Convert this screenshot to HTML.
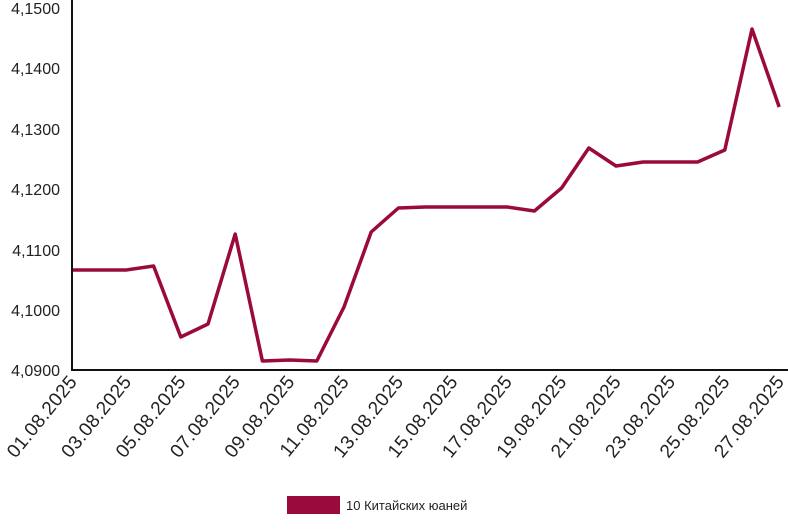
<!DOCTYPE html>
<html><head><meta charset="utf-8"><style>
body{margin:0;background:#fff;width:788px;height:525px;overflow:hidden}
text{font-family:"Liberation Sans",sans-serif;fill:#222}
</style></head><body>
<svg width="788" height="525" xmlns="http://www.w3.org/2000/svg">
<g font-size="16" text-anchor="end">
<text x="60" y="14">4,1500</text>
<text x="60" y="74">4,1400</text>
<text x="60" y="135">4,1300</text>
<text x="60" y="195">4,1200</text>
<text x="60" y="256">4,1100</text>
<text x="60" y="316">4,1000</text>
<text x="60" y="376">4,0900</text>
</g>
<polyline fill="none" stroke="#9b0a3c" stroke-width="3.5" stroke-linejoin="round" points="72,270 99.2,270 126.4,270 153.6,266 180.8,337 208,324 235.2,234 262.4,361 289.6,360 316.8,361 344,307 371.2,232 398.4,208 425.6,207 452.8,207 480,207 507.2,207 534.4,211 561.6,188 588.8,148 616,166 643.2,162 670.4,162 697.6,162 724.8,150 752,29 779.2,107"/>
<path d="M72,0 V370 H788" fill="none" stroke="#111" stroke-width="2"/>
<g font-size="19" text-anchor="end" letter-spacing="0.4">
<text transform="translate(78,382) rotate(-51)">01.08.2025</text>
<text transform="translate(132.4,382) rotate(-51)">03.08.2025</text>
<text transform="translate(186.8,382) rotate(-51)">05.08.2025</text>
<text transform="translate(241.2,382) rotate(-51)">07.08.2025</text>
<text transform="translate(295.6,382) rotate(-51)">09.08.2025</text>
<text transform="translate(350,382) rotate(-51)">11.08.2025</text>
<text transform="translate(404.4,382) rotate(-51)">13.08.2025</text>
<text transform="translate(458.8,382) rotate(-51)">15.08.2025</text>
<text transform="translate(513.2,382) rotate(-51)">17.08.2025</text>
<text transform="translate(567.6,382) rotate(-51)">19.08.2025</text>
<text transform="translate(622,382) rotate(-51)">21.08.2025</text>
<text transform="translate(676.4,382) rotate(-51)">23.08.2025</text>
<text transform="translate(730.8,382) rotate(-51)">25.08.2025</text>
<text transform="translate(785.2,382) rotate(-51)">27.08.2025</text>
</g>
<rect x="287" y="496" width="53" height="18" fill="#9b0a3c"/>
<text x="346" y="510" font-size="13">10 Китайских юаней</text>
</svg>
</body></html>
